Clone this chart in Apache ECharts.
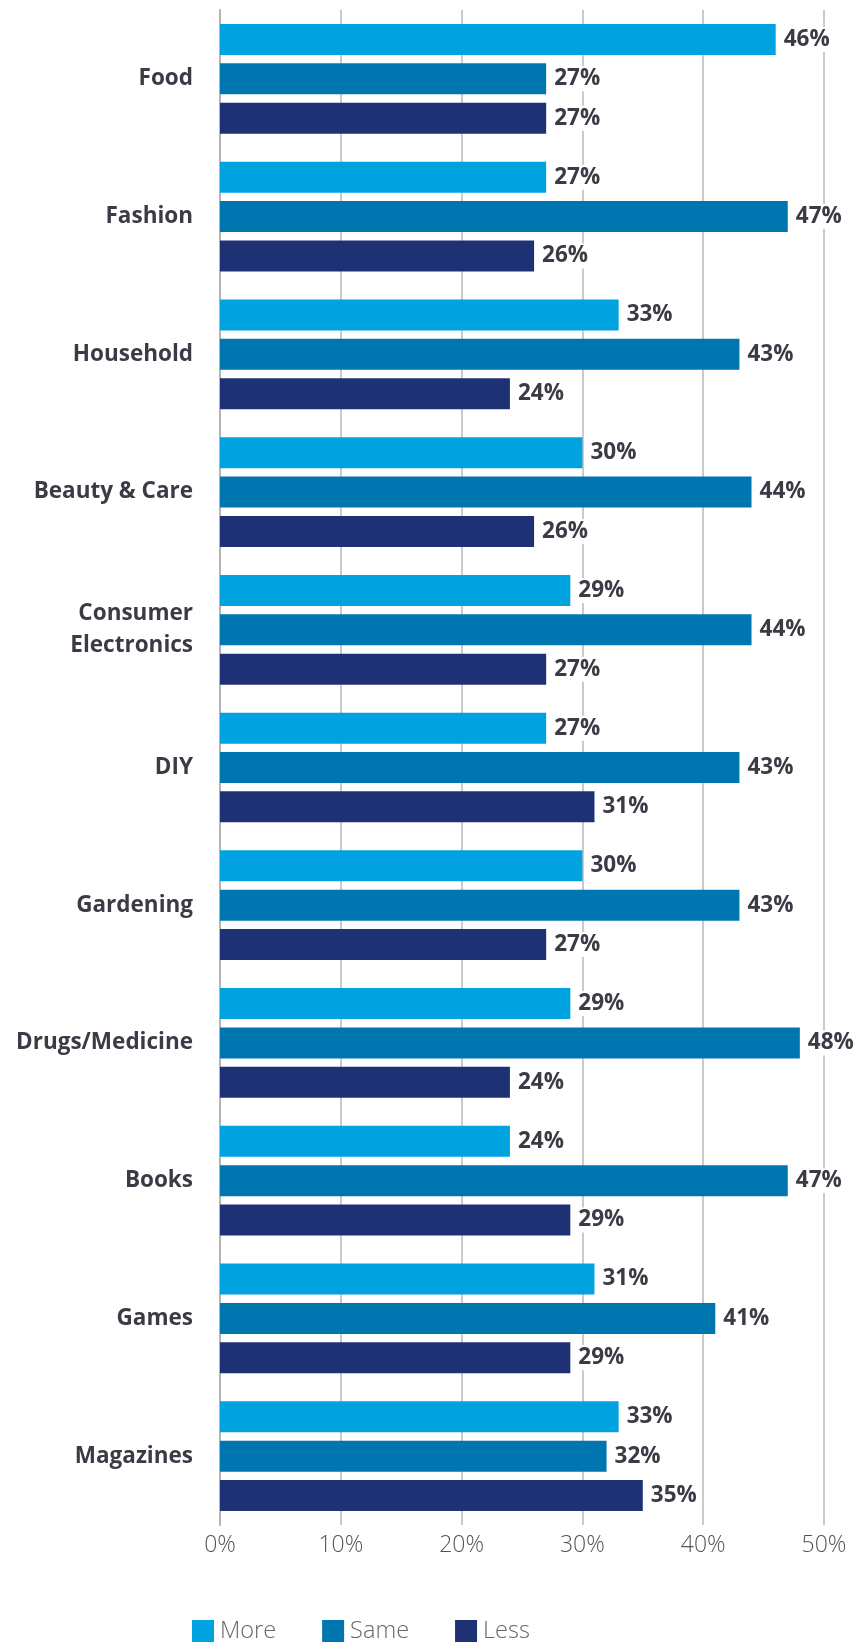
<!DOCTYPE html>
<html>
<head>
<meta charset="utf-8">
<script src="https://cdn.jsdelivr.net/npm/echarts@6/dist/echarts.min.js"></script>
<style>
  html, body { margin: 0; padding: 0; background: #ffffff; }
  #chart { width: 862px; height: 1643px; }
</style>
</head>
<body>
<div id="chart"></div>
<script>
// Shopping categories and share of respondents buying more / the same / less (%)
const categories = [
  'Food', 'Fashion', 'Household', 'Beauty & Care', 'Consumer\nElectronics',
  'DIY', 'Gardening', 'Drugs/Medicine', 'Books', 'Games', 'Magazines'
];
const moreValues = [46, 27, 33, 30, 29, 27, 30, 29, 24, 31, 33];
const sameValues = [27, 47, 43, 44, 44, 43, 43, 48, 47, 41, 32];
const lessValues = [27, 26, 24, 26, 27, 31, 27, 24, 29, 29, 35];
const seriesNames = ['More', 'Same', 'Less'];
const axisTicks = { min: 0, max: 50, step: 10 };

const FONT = '"Open Sans", "Noto Sans", sans-serif';
const colors = ['#00a3e0', '#0076b1', '#1e3174'];

const valueLabel = {
  show: true,
  position: 'right',
  distance: 7,
  formatter: p => p.value + '%',
  fontFamily: FONT,
  fontWeight: 'bold',
  fontSize: 22.5,
  color: '#3b3b45',
  backgroundColor: '#ffffff',
  padding: [1, 2, 1, 1]
};

function makeSeries(name, data, color) {
  return {
    name: name,
    type: 'bar',
    data: data,
    barWidth: 31,
    barGap: '27%',
    itemStyle: { color: color },
    label: valueLabel,
    emphasis: { disabled: true }
  };
}

const chart = echarts.init(document.getElementById('chart'), null, { renderer: 'canvas' });
chart.setOption({
  animation: false,
  color: colors,
  grid: { left: 220, right: 38, top: 10, bottom: 118, containLabel: false },
  legend: {
    data: seriesNames,
    left: 192,
    top: 1619,
    padding: 0,
    itemWidth: 22,
    itemHeight: 22,
    itemGap: 46,
    icon: 'rect',
    textStyle: { fontFamily: FONT, fontWeight: 300, fontSize: 23.5, color: '#666666', padding: [0, 0, 0, 1] }
  },
  xAxis: {
    type: 'value',
    min: axisTicks.min,
    max: axisTicks.max,
    interval: axisTicks.step,
    axisLine: { show: false },
    axisTick: { show: false },
    splitLine: { show: true, lineStyle: { color: '#cacaca', width: 2 } },
    axisLabel: {
      formatter: v => v + '%',
      fontFamily: FONT,
      fontWeight: 300,
      fontSize: 23,
      color: '#555555',
      margin: 9
    }
  },
  yAxis: {
    type: 'category',
    data: categories,
    inverse: true,
    axisLine: { show: true, lineStyle: { color: '#b4b4b8', width: 2 } },
    axisTick: { show: false },
    axisLabel: {
      fontFamily: FONT,
      fontWeight: 'bold',
      fontSize: 22.5,
      lineHeight: 32,
      color: '#3b3b45',
      margin: 27,
      align: 'right'
    }
  },
  series: [
    makeSeries(seriesNames[0], moreValues, colors[0]),
    makeSeries(seriesNames[1], sameValues, colors[1]),
    makeSeries(seriesNames[2], lessValues, colors[2])
  ]
});
</script>
</body>
</html>
